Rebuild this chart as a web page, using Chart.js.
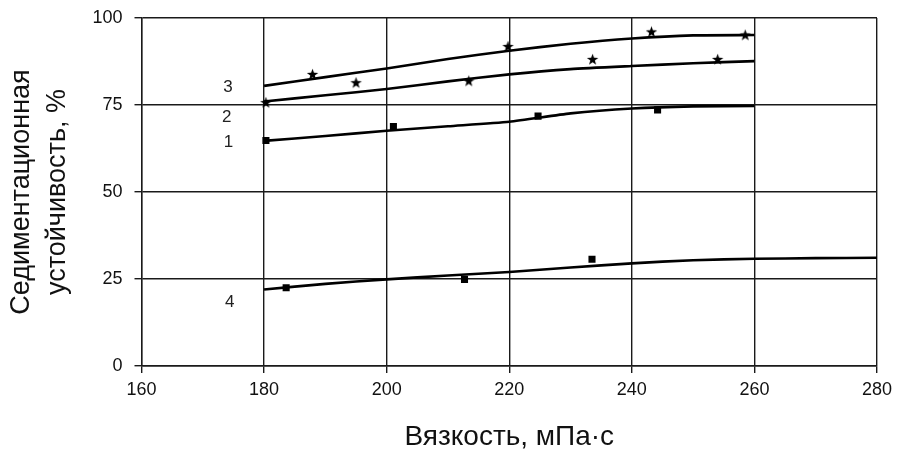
<!DOCTYPE html>
<html>
<head>
  <meta charset="UTF-8">
  <title>Седиментационная устойчивость</title>
  <script src="https://cdn.jsdelivr.net/npm/chart.js"></script>
  <style>
    body { margin: 0; background: #fff; }
    #wrap { width: 897px; height: 459px; }
  </style>
</head>
<body>
  <div id="wrap"><canvas id="chart" width="897" height="459"></canvas></div>
  <script>
    // сглаживающие кривые (вязкость -> устойчивость)
    const curveX = [180, 190, 200, 210, 220, 230, 240, 250, 260];
    const curve1 = [64.7, 66.1, 67.6, 68.9, 70.2, 72.6, 74.0, 74.6, 74.7];
    const curve2 = [76.0, 77.8, 79.6, 81.8, 83.8, 85.3, 86.2, 87.0, 87.6];
    const curve3 = [80.5, 83.0, 85.5, 88.2, 90.6, 92.6, 94.1, 95.0, 95.1];
    const curve4X = [180, 190, 200, 210, 220, 230, 240, 250, 260, 270, 280];
    const curve4 = [22.0, 23.6, 24.9, 26.0, 27.0, 28.3, 29.5, 30.4, 30.8, 31.0, 31.1];

    // экспериментальные точки
    const pts1X = [180.3, 201.1, 224.7, 244.2];
    const pts1Y = [64.8, 68.8, 71.8, 73.6];
    const pts2X = [180.3, 195.0, 213.4, 233.6, 254.0];
    const pts2Y = [75.7, 81.4, 81.9, 88.1, 88.1];
    const pts3X = [187.9, 219.8, 243.2, 258.5];
    const pts3Y = [83.8, 91.8, 96.0, 95.1];
    const pts4X = [183.6, 212.7, 233.5];
    const pts4Y = [22.5, 24.9, 30.7];

    // номера кривых
    const curveNames = ['1', '2', '3', '4'];
    const nameX = [174.2, 173.9, 174.1, 174.4];
    const nameY = [64.4, 71.6, 80.0, 18.4];

    const xTicks = [160, 180, 200, 220, 240, 260, 280];
    const yTicks = [0, 25, 50, 75, 100];

    const FONT = "'Liberation Sans', Arial, sans-serif";

    function zip(xs, ys) {
      return xs.map((x, i) => ({ x: x, y: ys[i] }));
    }

    // звёздочка для маркеров
    function makeStar() {
      const c = document.createElement('canvas');
      c.width = 13; c.height = 13;
      const g = c.getContext('2d');
      g.fillStyle = '#000';
      g.beginPath();
      for (let i = 0; i < 10; i++) {
        const r = i % 2 === 0 ? 6 : 2.4;
        const a = -Math.PI / 2 + i * Math.PI / 5;
        const px = 6.5 + r * Math.cos(a), py = 6.8 + r * Math.sin(a);
        if (i === 0) g.moveTo(px, py); else g.lineTo(px, py);
      }
      g.closePath();
      g.fill();
      return c;
    }
    const star = makeStar();

    const lineSet = (data) => ({
      data: data, showLine: true, borderColor: '#000', borderWidth: 2.6,
      pointRadius: 0, tension: 0.2, fill: false
    });
    const squareSet = (data) => ({
      data: data, showLine: false, pointStyle: 'rect', pointRadius: 5,
      backgroundColor: '#000', borderColor: '#000', borderWidth: 0
    });
    const starSet = (data) => ({
      data: data, showLine: false, pointStyle: star, pointRadius: 6
    });

    const curveNumbers = {
      id: 'curveNumbers',
      afterDatasetsDraw(chart) {
        const ctx = chart.ctx;
        const xs = chart.scales.x, ys = chart.scales.y;
        ctx.save();
        ctx.fillStyle = '#222';
        ctx.font = '17px ' + FONT;
        ctx.textAlign = 'center';
        ctx.textBaseline = 'middle';
        curveNames.forEach((t, i) => {
          ctx.fillText(t, xs.getPixelForValue(nameX[i]), ys.getPixelForValue(nameY[i]));
        });
        ctx.restore();
      }
    };

    new Chart(document.getElementById('chart'), {
      type: 'scatter',
      data: {
        datasets: [
          lineSet(zip(curveX, curve1)),
          lineSet(zip(curveX, curve2)),
          lineSet(zip(curveX, curve3)),
          lineSet(zip(curve4X, curve4)),
          squareSet(zip(pts1X, pts1Y)),
          starSet(zip(pts2X, pts2Y)),
          starSet(zip(pts3X, pts3Y)),
          squareSet(zip(pts4X, pts4Y))
        ]
      },
      options: {
        responsive: false,
        animation: false,
        layout: { padding: { top: 18, right: 20, left: 0, bottom: 0 } },
        plugins: { legend: { display: false }, tooltip: { enabled: false } },
        scales: {
          x: {
            type: 'linear', min: 160, max: 280,
            afterBuildTicks: (s) => { s.ticks = xTicks.map(v => ({ value: v })); },
            afterFit: (s) => { s.height = 93; s.paddingLeft = 0; s.paddingRight = 0; },
            grid: { color: '#1a1a1a', lineWidth: 1.4, tickLength: 7, drawTicks: true },
            border: { color: '#1a1a1a', width: 1.4 },
            ticks: { color: '#111', font: { family: FONT, size: 18 }, padding: 6 },
            title: {
              display: true, text: 'Вязкость, мПа·с', color: '#111',
              font: { family: FONT, size: 28 }, padding: { top: 0, bottom: 5 }
            }
          },
          y: {
            type: 'linear', min: 0, max: 100,
            afterBuildTicks: (s) => { s.ticks = yTicks.map(v => ({ value: v })); },
            afterFit: (s) => { s.width = 141.5; s.paddingTop = 0; s.paddingBottom = 0; },
            grid: { color: '#1a1a1a', lineWidth: 1.4, tickLength: 7, drawTicks: true },
            border: { color: '#1a1a1a', width: 1.4 },
            ticks: { color: '#111', font: { family: FONT, size: 18 }, padding: 12 },
            title: {
              display: true, text: ['Седиментационная', 'устойчивость, %'], color: '#111',
              font: { family: FONT, size: 27, lineHeight: 1.333 }, padding: { top: 4, bottom: 0 }
            }
          }
        }
      },
      plugins: [curveNumbers]
    });
  </script>
</body>
</html>
